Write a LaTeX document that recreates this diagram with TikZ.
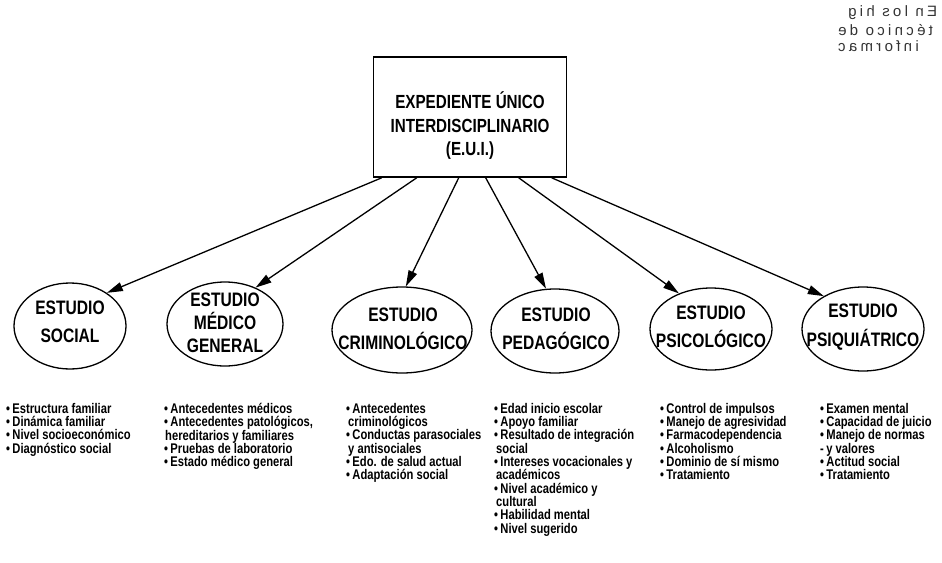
\documentclass[tikz,border=0pt]{standalone}
\usepackage{fontspec}
\setmainfont{Liberation Sans}
\newfontfamily\capfont{Liberation Sans}[FakeStretch=0.8]
\newfontfamily\listfont{Liberation Sans}[FakeStretch=0.8]
\newfontfamily\ghostfont{Liberation Sans}[LetterSpace=22]
\usetikzlibrary{shapes.geometric,arrows.meta}
\begin{document}
\begin{tikzpicture}[x=1pt,y=-1pt,
  mainbox/.style={draw, line width=1.6pt, minimum width=193pt, minimum height=120pt, inner sep=0pt},
  boxtext/.style={align=center, inner sep=0pt, font=\capfont\bfseries\fontsize{19}{23.5}\selectfont},
  oval/.style={draw, ellipse, line width=1.3pt, inner sep=0pt},
  ovaltext/.style={align=center, inner sep=0pt, font=\capfont\bfseries\fontsize{19.5}{28.5}\selectfont},
  itemlist/.style={anchor=north west, align=left, inner sep=0pt, font=\listfont\bfseries\fontsize{14}{13.3}\selectfont},
  link/.style={line width=1.3pt, -{Triangle[length=16pt,width=9pt]}},
  ghost/.style={xscale=-1, anchor=east, inner sep=0pt, text=black!80, font=\ghostfont\fontsize{15}{16}\selectfont},
]
\useasboundingbox (0,0) rectangle (942,562);

% mirrored bleed-through text at top right
\node[ghost] (g1) at (848,13) {En los hig};
\node[ghost] (g2) at (838,30) {técnico de};
\node[ghost] (g3) at (838,46) {informac};

% main box
\node[mainbox] (eui) at (470,117) {};
\node[boxtext] (euitext) at (470,126) {EXPEDIENTE ÚNICO\\INTERDISCIPLINARIO\\(E.U.I.)};

% ellipses
\node[oval, minimum width=112pt, minimum height=86pt] (e1) at (70,326) {};
\node[oval, minimum width=116pt, minimum height=84pt] (e2) at (225,324) {};
\node[oval, minimum width=140pt, minimum height=86pt] (e3) at (402,330) {};
\node[oval, minimum width=128pt, minimum height=84pt] (e4) at (555,331) {};
\node[oval, minimum width=122pt, minimum height=82pt] (e5) at (711,329) {};
\node[oval, minimum width=122pt, minimum height=84pt] (e6) at (863,329) {};

\node[ovaltext] (t1) at (70,322) {ESTUDIO\\SOCIAL};
\node[ovaltext, font=\capfont\bfseries\fontsize{19.5}{23}\selectfont] (t2) at (225,323) {ESTUDIO\\MÉDICO\\GENERAL};
\node[ovaltext] (t3) at (403,329) {ESTUDIO\\CRIMINOLÓGICO};
\node[ovaltext] (t4) at (556,329) {ESTUDIO\\PEDAGÓGICO};
\node[ovaltext] (t5) at (711,327) {ESTUDIO\\PSICOLÓGICO};
\node[ovaltext] (t6) at (863,327) {ESTUDIO\\PSIQUIÁTRICO};

% connectors
\draw[link] ([xshift=9pt]eui.south west) -- (e1.42);
\draw[link] ([xshift=44pt]eui.south west) -- (e2.50);
\draw[link] ([xshift=86pt]eui.south west) -- (e3.85);
\draw[link] ([xshift=113pt]eui.south west) -- (e4.102);
\draw[link] ([xshift=146pt]eui.south west) -- (e5.132);
\draw[link] ([xshift=179pt]eui.south west) -- (e6.140);

% item lists
\node[itemlist] (l1) at (6,403) {•\,Estructura familiar\\•\,Dinámica familiar\\•\,Nivel socioeconómico\\•\,Diagnóstico social};
\node[itemlist] (l2) at (164,403) {•\,Antecedentes médicos\\•\,Antecedentes patológicos,\\\hspace{1pt}hereditarios y familiares\\•\,Pruebas de laboratorio\\•\,Estado médico general};
\node[itemlist] (l3) at (346,403) {•\,Antecedentes\\\hspace{2pt}criminológicos\\•\,Conductas parasociales\\\hspace{2pt}y antisociales\\•\,Edo. de salud actual\\•\,Adaptación social};
\node[itemlist] (l4) at (494,403) {•\,Edad inicio escolar\\•\,Apoyo familiar\\•\,Resultado de integración\\\hspace{2pt}social\\•\,Intereses vocacionales y\\\hspace{2pt}académicos\\•\,Nivel académico y\\\hspace{2pt}cultural\\•\,Habilidad mental\\•\,Nivel sugerido};
\node[itemlist] (l5) at (660,403) {•\,Control de impulsos\\•\,Manejo de agresividad\\•\,Farmacodependencia\\•\,Alcoholismo\\•\,Dominio de sí mismo\\•\,Tratamiento};
\node[itemlist] (l6) at (820,403) {•\,Examen mental\\•\,Capacidad de juicio\\•\,Manejo de normas\\-\,y valores\\•\,Actitud social\\•\,Tratamiento};
\end{tikzpicture}
\end{document}
